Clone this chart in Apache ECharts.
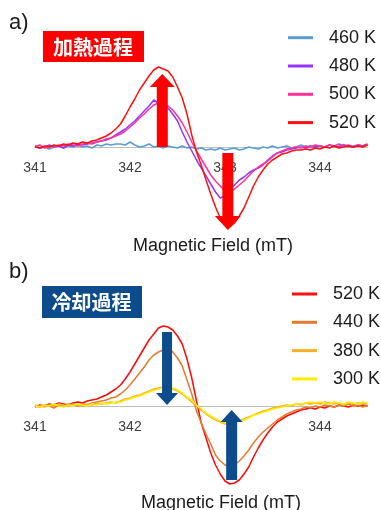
<!DOCTYPE html>
<html>
<head>
<meta charset="utf-8">
<script src="https://cdn.jsdelivr.net/npm/echarts@6/dist/echarts.min.js"></script>
<style>
  html, body { margin: 0; padding: 0; background: #fff; }
  #chart { width: 381px; height: 510px; }
</style>
</head>
<body>
<div id="chart"></div>
<script>
// 磁場 (mT)
const fields = [
  341.00, 341.05, 341.10, 341.15, 341.20, 341.25, 341.30, 341.35, 341.40, 341.45,
  341.50, 341.55, 341.60, 341.65, 341.70, 341.75, 341.80, 341.85, 341.90, 341.95,
  342.00, 342.05, 342.10, 342.15, 342.20, 342.25, 342.30, 342.35, 342.40, 342.45,
  342.50, 342.55, 342.60, 342.65, 342.70, 342.75, 342.80, 342.85, 342.90, 342.95,
  343.00, 343.05, 343.10, 343.15, 343.20, 343.25, 343.30, 343.35, 343.40, 343.45,
  343.50, 343.55, 343.60, 343.65, 343.70, 343.75, 343.80, 343.85, 343.90, 343.95,
  344.00, 344.05, 344.10, 344.15, 344.20, 344.25, 344.30, 344.35, 344.40, 344.45,
  344.50
]
// 目盛ラベル (b の 343 は矢印に隠れている)
const xTicksA = [341, 342, 343, 344]
const xTicksB = [341, 342, 344]

// a) 加熱過程
const heat460 = [
  1, -1, 0, -2, 0, 1, -1, 1, 0, 2,
  0, 1, -1, 2, 1, 3, 2, 3, 3, 2,
  5, 2, 0, 1, 3, 0, 1, -1, 1, 0,
  -1, 1, -1, 0, -2, -1, -3, -2, -3, -1,
  -3, -2, -1, -3, -2, 0, -1, -2, 0, -1,
  1, -1, 0, 1, -1, 0, 2, 0, 1, -1,
  1, 0, 2, 0, 1, 2, 0, 1, 2, 1,
  3
]
const heat480 = [
  1, -1, 0, 2, 0, 1, -1, 2, 1, 3,
  2, 3, 4, 5, 6, 7, 9, 12, 15, 18,
  22, 26, 31, 36, 41, 47, 44, 42, 39, 33,
  26, 15, 5, -4, -13, -21, -29, -37, -45, -51,
  -49, -43, -38, -33, -30, -26, -23, -21, -18, -13,
  -9, -6, -5, -3, -2, -1, 0, -1, 1, 0,
  1, 0, 2, 1, 0, 2, 1, 0, 2, 1,
  2
]
const heat500 = [
  0, 2, -1, 1, 0, 2, 1, 3, 2, 1,
  3, 4, 3, 5, 6, 8, 9, 11, 13, 16,
  20, 24, 29, 33, 38, 42, 44, 43, 41, 37,
  31, 24, 15, 5, -4, -12, -20, -28, -34, -39,
  -44, -46, -42, -38, -34, -29, -24, -20, -17, -14,
  -10, -6, -4, -2, -1, 0, -1, 1, 0, 2,
  1, 0, 2, 1, 3, 1, 2, 0, 2, 1,
  3
]
const heat520 = [
  0, -1, 1, 0, 2, 1, 3, 2, 4, 3,
  5, 4, 6, 7, 9, 11, 14, 18, 23, 31,
  40, 48, 57, 64, 71, 77, 80, 78, 76, 70,
  60, 49, 33, 12, -5, -18, -33, -47, -60, -71,
  -78, -80, -76, -69, -61, -50, -39, -30, -23, -17,
  -13, -10, -7, -6, -4, -3, -3, -2, -3, -1,
  -2, 0, -1, 1, -1, 0, 1, 0, 1, 0,
  2
]

// b) 冷却過程
const cool520 = [
  -1, 1, 0, 2, 1, 3, 2, 1, 3, 4,
  3, 5, 6, 7, 9, 11, 14, 17, 21, 27,
  34, 42, 50, 58, 66, 72, 78, 80, 79, 76,
  70, 62, 47, 28, 5, -17, -32, -47, -59, -68,
  -75, -78, -77, -74, -68, -61, -51, -42, -34, -27,
  -21, -16, -13, -10, -8, -6, -4, -3, -2, -3,
  -1, -2, 0, -1, 1, 0, -1, 1, 0, 1,
  0
]
const cool440 = [
  0, -1, 1, 0, -2, 1, 0, 2, 1, 0,
  2, 1, 3, 4, 5, 6, 8, 9, 12, 16,
  21, 27, 33, 39, 46, 51, 54, 56, 57, 54,
  48, 40, 26, 12, -5, -17, -28, -38, -49, -55,
  -59, -61, -59, -55, -50, -44, -37, -31, -26, -22,
  -18, -14, -11, -8, -6, -4, -3, -1, -2, 0,
  -1, 1, 0, -1, 1, 0, 2, 0, 1, -1,
  1
]
const cool380 = [
  1, 0, -1, 1, 0, 2, 1, 0, 2, 1,
  0, 2, 1, 3, 2, 3, 4, 3, 5, 7,
  8, 10, 11, 13, 15, 17, 18, 19, 18, 17,
  15, 12, 8, 4, 0, -4, -8, -11, -14, -16,
  -18, -17, -16, -15, -13, -11, -9, -7, -5, -4,
  -2, -1, 0, 1, 0, 2, 1, 3, 2, 3,
  2, 4, 3, 2, 3, 1, 3, 2, 3, 2,
  3
]
const cool300 = [
  0, -1, 1, 0, 2, 0, -1, 1, 0, 2,
  1, 0, 2, 1, 3, 2, 3, 4, 4, 6,
  7, 9, 10, 12, 14, 16, 17, 18, 17, 18,
  16, 13, 9, 6, 1, -3, -7, -10, -13, -15,
  -17, -16, -17, -15, -14, -12, -9, -8, -6, -5,
  -3, -2, -1, 0, 1, 2, 2, 3, 4, 3,
  4, 3, 2, 4, 3, 2, 4, 3, 2, 4,
  3
]

const heatNames = ['460 K', '480 K', '500 K', '520 K']
const heatColors = ['#5b9bd5', '#9933ff', '#ff3399', '#ff1010']
const heatValues = [heat460, heat480, heat500, heat520]
const coolNames = ['520 K', '440 K', '380 K', '300 K']
const coolColors = ['#ff0a0a', '#e8792f', '#f6b127', '#ffeb00']
// 描画順: 黄色を一番上に
const coolValues = [cool520, cool440, cool380, cool300]

const FONT = '"Liberation Sans", Arial, sans-serif'
const CJK = '"Noto Sans CJK JP", sans-serif'
const Y_MAX = 96

function pairs (vals) {
  return fields.map((f, i) => [f, vals[i]])
}

const myChart = echarts.init(document.getElementById('chart'))

function makeXAxis (gridIndex, ticks) {
  return {
    gridIndex: gridIndex,
    type: 'value',
    min: 341,
    max: 344.5,
    interval: 1,
    position: 'bottom',
    offset: -Y_MAX, // ゼロ線の位置へ持ち上げる (grid 高さ = 2 * Y_MAX px)
    axisLine: { onZero: false, lineStyle: { color: '#bfbfbf', width: 1 } },
    axisTick: { show: false },
    splitLine: { show: false },
    axisLabel: {
      margin: 14,
      fontSize: 14,
      color: '#404040',
      fontFamily: FONT,
      formatter: v => (ticks.indexOf(v) >= 0 ? String(v) : '')
    }
  }
}
const yAxisBase = { type: 'value', min: -Y_MAX, max: Y_MAX, show: false }

const series = []
heatNames.forEach((n, i) => {
  series.push({
    name: n, type: 'line', xAxisIndex: 0, yAxisIndex: 0,
    showSymbol: false, data: pairs(heatValues[i]),
    lineStyle: { width: 1.5, color: heatColors[i] },
    itemStyle: { color: heatColors[i] }
  })
})
coolNames.forEach((n, i) => {
  series.push({
    name: n, type: 'line', xAxisIndex: 1, yAxisIndex: 1,
    showSymbol: false, data: pairs(coolValues[i]),
    lineStyle: { width: 1.5, color: coolColors[i] },
    itemStyle: { color: coolColors[i] }
  })
})

const legendBase = {
  orient: 'vertical',
  icon: 'rect',
  padding: 0,
  itemWidth: 25,
  itemHeight: 3,
  itemGap: 10.3,
  selectedMode: false,
  textStyle: { fontSize: 18, lineHeight: 18, color: '#1a1a1a', fontFamily: FONT, padding: [0, 0, 0, 11] }
}

const option = {
  animation: false,
  backgroundColor: '#fff',
  grid: [
    { left: 35, width: 332.5, top: 51, height: 2 * Y_MAX, outerBoundsMode: 'none' },
    { left: 35, width: 332.5, top: 310, height: 2 * Y_MAX, outerBoundsMode: 'none' }
  ],
  xAxis: [makeXAxis(0, xTicksA), makeXAxis(1, xTicksB)],
  yAxis: [
    Object.assign({ gridIndex: 0 }, yAxisBase),
    Object.assign({ gridIndex: 1 }, yAxisBase)
  ],
  legend: [
    Object.assign({ left: 288, top: 28.7, data: heatNames }, legendBase),
    Object.assign({ left: 292, top: 285, data: coolNames }, legendBase)
  ],
  series: series
}
myChart.setOption(option)

// 矢印 (データ座標で指定)
const arrows = [
  { grid: 0, x: 342.34, from: 0, to: 73, color: '#ff0000', sw: 5.5, hw: 12.5, h: 13 },
  { grid: 0, x: 343.03, from: -6, to: -83, color: '#ff0000', sw: 5.5, hw: 13, h: 14 },
  { grid: 1, x: 342.39, from: 74, to: 1, color: '#0d4c8c', sw: 5, hw: 11, h: 12 },
  { grid: 1, x: 343.07, from: -74, to: -4, color: '#0d4c8c', sw: 5.5, hw: 11, h: 12 }
]

function arrowShape (a) {
  const p0 = myChart.convertToPixel({ gridIndex: a.grid }, [a.x, a.from])
  const p1 = myChart.convertToPixel({ gridIndex: a.grid }, [a.x, a.to])
  const cx = p0[0]
  const d = p1[1] > p0[1] ? 1 : -1
  const hb = p1[1] - d * a.h
  return [
    [cx - a.sw, p0[1]], [cx - a.sw, hb], [cx - a.hw, hb], [cx, p1[1]],
    [cx + a.hw, hb], [cx + a.sw, hb], [cx + a.sw, p0[1]]
  ]
}

const graphics = arrows.map(a => ({
  type: 'polygon', z: 100, shape: { points: arrowShape(a) }, style: { fill: a.color }
}))

graphics.push(
  { type: 'text', left: 9, top: 12, z: 100, style: { text: 'a)', fontSize: 22, fontFamily: FONT, fill: '#1a1a1a' } },
  { type: 'text', left: 9, top: 261, z: 100, style: { text: 'b)', fontSize: 22, fontFamily: FONT, fill: '#1a1a1a' } },
  { type: 'rect', z: 100, shape: { x: 43, y: 31, width: 101, height: 31 }, style: { fill: '#ff0000' } },
  { type: 'text', z: 101, x: 93, y: 47, style: { text: '加熱過程', fontSize: 20, fontWeight: 'bold', fontFamily: CJK, fill: '#fff', align: 'center', verticalAlign: 'middle' } },
  { type: 'rect', z: 100, shape: { x: 42, y: 286, width: 100, height: 32 }, style: { fill: '#0d4c8c' } },
  { type: 'text', z: 101, x: 91.5, y: 302, style: { text: '冷却過程', fontSize: 20, fontWeight: 'bold', fontFamily: CJK, fill: '#fff', align: 'center', verticalAlign: 'middle' } },
  { type: 'text', z: 100, x: 213, y: 246, style: { text: 'Magnetic Field (mT)', fontSize: 18, fontFamily: FONT, fill: '#1a1a1a', align: 'center', verticalAlign: 'middle' } },
  { type: 'text', z: 100, x: 221, y: 503, style: { text: 'Magnetic Field (mT)', fontSize: 18, fontFamily: FONT, fill: '#1a1a1a', align: 'center', verticalAlign: 'middle' } }
)

myChart.setOption({ graphic: graphics })

window.addEventListener('resize', function () {
  myChart.resize()
})
</script>
</body>
</html>
